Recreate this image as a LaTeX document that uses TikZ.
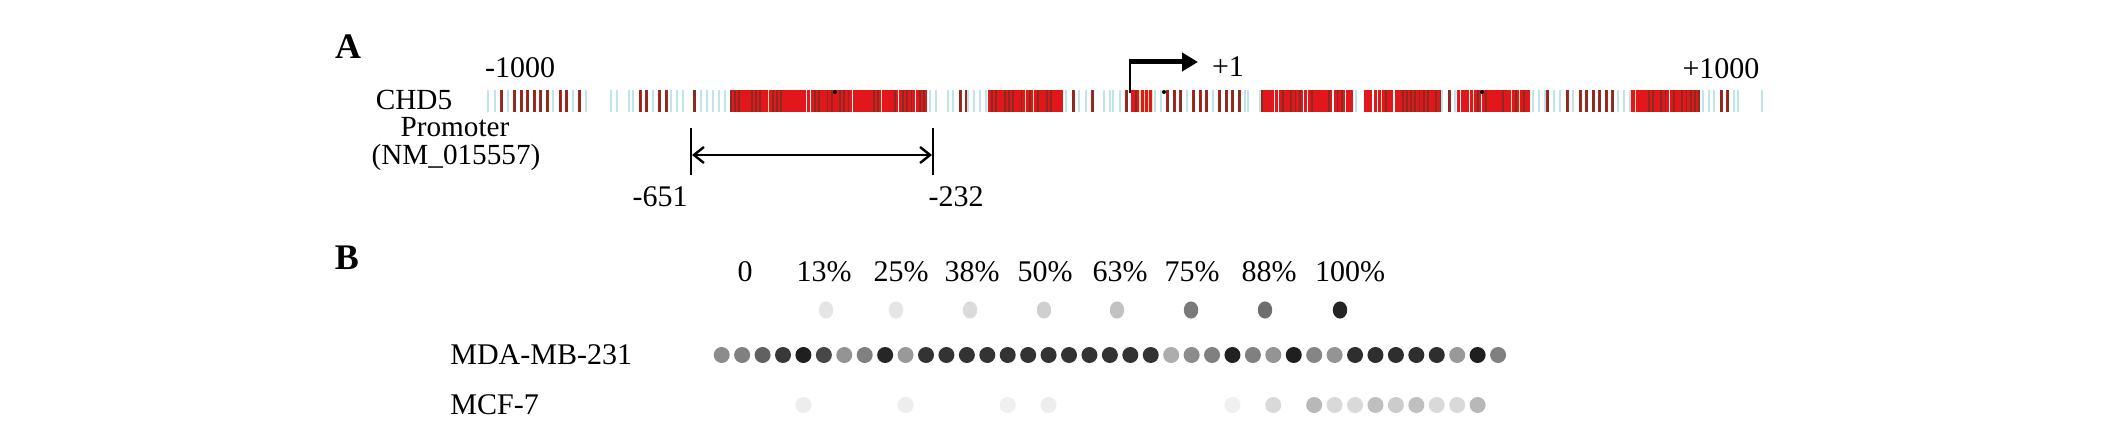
\documentclass[tikz,border=0pt]{standalone}
\usepackage{fontspec}
\setmainfont{Liberation Serif}
\usetikzlibrary{arrows.meta}
\definecolor{stripeRed}{HTML}{E3161B}
\definecolor{stripeDark}{HTML}{8A2B1F}
\definecolor{stripeMid}{HTML}{B5231C}
\definecolor{stripeBlue}{HTML}{BFE4EA}
\definecolor{stripeGap}{HTML}{F3E6B0}
\def\barT{90}
\def\barB{112}
\def\barH{22}
% sparse region: thin dark stripes with pale blue ones between
\newcommand\regS[2]{%
  \pgfmathtruncatemacro\nn{(#2-#1)/6.5}%
  \foreach \k in {0,...,\nn}{%
    \pgfmathsetmacro\xx{#1+\k*6.5}%
    \pgfmathsetmacro\rr{rnd}%
    \ifdim\rr pt<0.62pt
      \fill[stripeMid] (\xx,\barT) rectangle ++(3,\barH);
      \fill[stripeDark] (\xx+0.5,\barT) rectangle ++(2,\barH);
    \else
      \fill[stripeBlue] (\xx,\barT) rectangle ++(2.2,\barH);
    \fi
  }}
% dense region: red with dark stripes and thin light gaps
\newcommand\regD[2]{%
  \fill[stripeRed] (#1,\barT) rectangle (#2,\barB);
  \pgfmathtruncatemacro\nn{(#2-#1)/4.2}%
  \foreach \k in {0,...,\nn}{%
    \pgfmathsetmacro\xx{#1+\k*4.2}%
    \pgfmathsetmacro\rr{rnd}%
    \ifdim\rr pt<0.45pt \fill[stripeDark] (\xx,\barT) rectangle ++(1.8,\barH);\fi
    \ifdim\rr pt>0.72pt
      \ifdim\rr pt>0.86pt \fill[stripeGap] (\xx,\barT) rectangle ++(1.2,\barH);
      \else \fill[white] (\xx,\barT) rectangle ++(1.2,\barH);\fi
    \fi
  }}
% light region: pale blue stripes only
\newcommand\regL[2]{%
  \pgfmathtruncatemacro\nn{(#2-#1)/6}%
  \foreach \k in {0,...,\nn}{%
    \pgfmathsetmacro\xx{#1+\k*6}%
    \pgfmathsetmacro\rr{rnd}%
    \ifdim\rr pt<0.7pt \fill[stripeBlue] (\xx,\barT) rectangle ++(2,\barH);\fi
  }}
\begin{document}
\begin{tikzpicture}[x=0.5pt,y=-0.5pt,
  txt/.style={inner sep=0pt, font=\fontsize{15}{18}\selectfont, anchor=base},
  gene/.style={inner sep=0pt, font=\fontsize{14.6}{17}\selectfont, anchor=base},
  panel/.style={inner sep=0pt, font=\fontsize{18}{20}\selectfont\bfseries, anchor=base},
  thinline/.style={line width=0.8pt, black},
  spanarrow/.style={line width=1.2pt, black, {Straight Barb[length=5pt,width=8pt]}-{Straight Barb[length=5pt,width=8pt]}},
  tssarrow/.style={line width=2.5pt, black, -{Triangle[length=8pt,width=9pt]}}]
\useasboundingbox (0,0) rectangle (2128,427);
\fill[white] (0,0) rectangle (2128,427);
\pgfmathsetseed{11}
% ---- promoter bar ----
\regS{487}{590}
\regL{592}{630}
\regS{632}{668}
\regL{670}{728}
\fill[stripeDark] (693,\barT) rectangle ++(2.6,\barH);
\regD{730}{927}
\regL{929}{950}
\regS{952}{965}
\regL{967}{985}
\regD{987}{1063}
\regS{1065}{1095}
\regL{1097}{1110}
\regS{1112}{1130}
\regD{1131}{1152}
\regL{1154}{1165}
\regS{1166}{1245}
\regL{1247}{1260}
\regD{1261}{1353}
\regL{1355}{1363}
\regD{1364}{1440}
\regS{1441}{1455}
\regD{1456}{1530}
\regL{1532}{1545}
\regS{1546}{1615}
\regL{1617}{1630}
\regD{1631}{1700}
\regL{1702}{1712}
\regS{1713}{1735}
\regL{1737}{1763}
\fill[black] (835,92) circle[radius=1pt] (1164,92) circle[radius=1pt] (1482,92) circle[radius=1pt];
% ---- panel A texts ----
\node[panel] (pA) at (348,59) {A};
\node[txt] (lm1000) at (520,78) {-1000};
\node[txt] (lp1) at (1228,77) {+1};
\node[txt] (lp1000) at (1721,79) {+1000};
\node[gene] (chd) at (414,110) {CHD5};
\node[gene] (prom) at (455,137) {Promoter};
\node[gene] (nm) at (456,165) {(NM\_015557)};
\node[txt] (l651) at (660,206) {-651};
\node[txt] (l232) at (956,206) {-232};
% transcription start arrow
\coordinate (tssBase) at (1130,93);
\coordinate (tssCorner) at (1130,62);
\coordinate (tssStart) at (1129,62);
\coordinate (tssTip) at (1198,62);
\draw[thinline] (tssBase) -- (tssCorner);
\draw[tssarrow] (tssStart) -- (tssTip);
% span bracket
\coordinate (blT) at (691,128);
\coordinate (blB) at (691,175);
\coordinate (brT) at (933,128);
\coordinate (brB) at (933,175);
\coordinate (aL) at (692,155);
\coordinate (aR) at (932,155);
\draw[thinline] (blT) -- (blB);
\draw[thinline] (brT) -- (brB);
\draw[spanarrow] (aL) -- (aR);
% ---- panel B ----
\node[panel] (pB) at (347,270) {B};
\foreach \lx/\lt/\nm in {745/0/p0,824/13\%/p13,901/25\%/p25,972/38\%/p38,1045/50\%/p50,1120/63\%/p63,1192/75\%/p75,1269/88\%/p88,1350/100\%/p100}{
  \node[txt] (\nm) at (\lx,281) {\lt};
}
% standards
\foreach \sx/\sb in {826/10,896/10,970/14,1044/19,1117/24,1191/52,1265/57,1340/86}{
  \fill[black!\sb] (\sx,310) ellipse[x radius=3.6pt, y radius=4.3pt];
}
\node[txt, anchor=base west] (mda) at (450,364) {MDA-MB-231};
\node[txt, anchor=base west] (mcf) at (450,414) {MCF-7};
% MDA-MB-231 row
\foreach \b [count=\i from 0] in {45,50,62,78,88,72,42,50,85,40,80,80,80,80,80,80,80,80,80,80,80,80,32,45,50,87,50,42,88,48,42,82,82,82,82,82,40,88,50}{
  \fill[black!\b] (721.7+\i*20.43,355) circle[radius=4pt];
}
% MCF-7 row
\foreach \j/\b in {4/7,9/7,14/6,16/7,25/6,27/15,29/28,30/15,31/15,32/25,33/20,34/25,35/15,36/15,37/28}{
  \fill[black!\b] (721.7+\j*20.43,405) circle[radius=4pt];
}
\end{tikzpicture}
\end{document}
